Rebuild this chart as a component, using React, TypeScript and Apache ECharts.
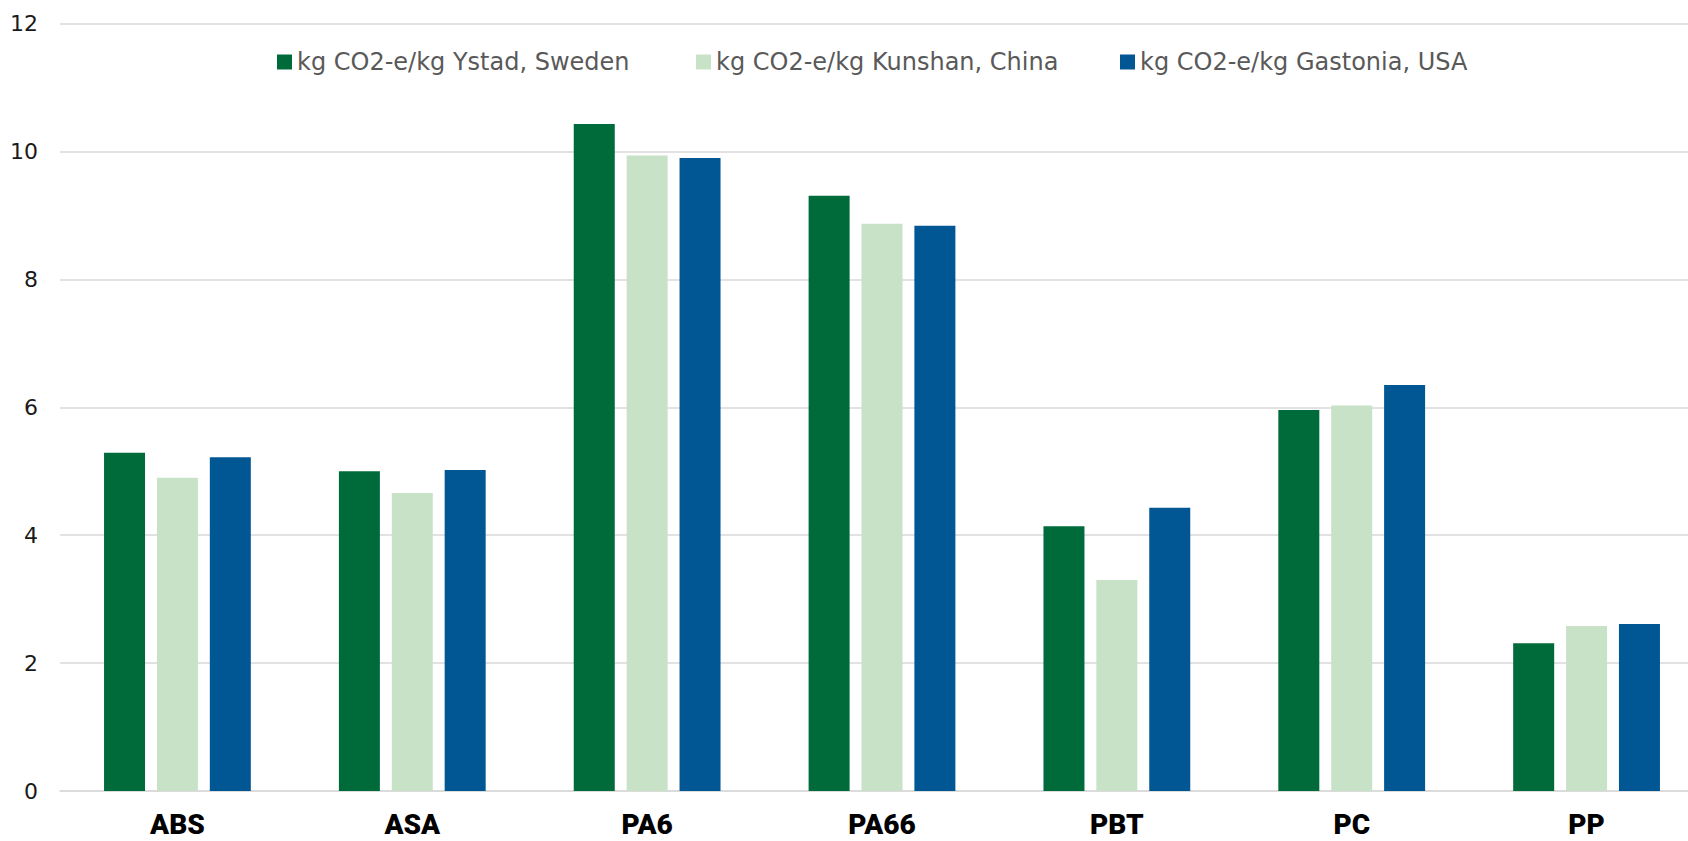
import React, { useEffect, useRef } from "react";
import * as echarts from "echarts";

const categories = ["ABS", "ASA", "PA6", "PA66", "PBT", "PC", "PP"];
const seriesNames = [
  "kg CO2-e/kg Ystad, Sweden",
  "kg CO2-e/kg Kunshan, China",
  "kg CO2-e/kg Gastonia, USA",
];
const sweden = [5.29, 5.0, 10.43, 9.31, 4.14, 5.96, 2.31];
const china = [4.9, 4.66, 9.94, 8.87, 3.3, 6.03, 2.58];
const usa = [5.22, 5.02, 9.9, 8.84, 4.43, 6.35, 2.61];
const colors = ["#006B3A", "#C8E2C8", "#005794"];

export default function App() {
  const ref = useRef<HTMLDivElement>(null);
  useEffect(() => {
    if (!ref.current) return;
    const chart = echarts.init(ref.current, undefined, { renderer: "svg" });
    const values = [sweden, china, usa];
    const legendLefts = [277, 696, 1120];
    chart.setOption({
      animation: false,
      backgroundColor: "#ffffff",
      color: colors,
      legend: seriesNames.map((n, i) => ({
        data: [n],
        left: legendLefts[i],
        top: 50,
        padding: 0,
        icon: "rect",
        itemWidth: 15,
        itemHeight: 15,
        selectedMode: false,
        textStyle: {
          fontFamily: "DejaVu Sans",
          fontSize: 24,
          color: "#595959",
        },
      })),
      grid: { left: 60, top: 23.7, right: 16, bottom: 50 },
      xAxis: {
        type: "category",
        data: categories,
        axisLine: { lineStyle: { color: "#d9d9d9", width: 1.5 } },
        axisTick: { show: false },
        axisLabel: {
          margin: 19,
          fontFamily: "Roboto",
          fontWeight: 900,
          fontSize: 28,
          lineHeight: 28,
          color: "#000000",
        },
      },
      yAxis: {
        type: "value",
        min: 0,
        max: 12,
        interval: 2,
        axisLine: { show: false },
        axisTick: { show: false },
        splitLine: { lineStyle: { color: "#d9d9d9", width: 1.5 } },
        axisLabel: {
          margin: 22,
          fontFamily: "DejaVu Sans",
          fontSize: 22,
          color: "#1a1a1a",
        },
      },
      series: seriesNames.map((n, i) => ({
        name: n,
        type: "bar",
        data: values[i],
        barWidth: 41,
        barGap: "29%",
        itemStyle: { color: colors[i] },
      })),
    });
    return () => chart.dispose();
  }, []);
  return (
    <div
      style={{
        position: "fixed",
        left: 0,
        top: 0,
        width: 1688,
        height: 841,
        overflow: "hidden",
        background: "#ffffff",
      }}
    >
      <div ref={ref} style={{ width: 1720, height: 841 }} />
    </div>
  );
}
